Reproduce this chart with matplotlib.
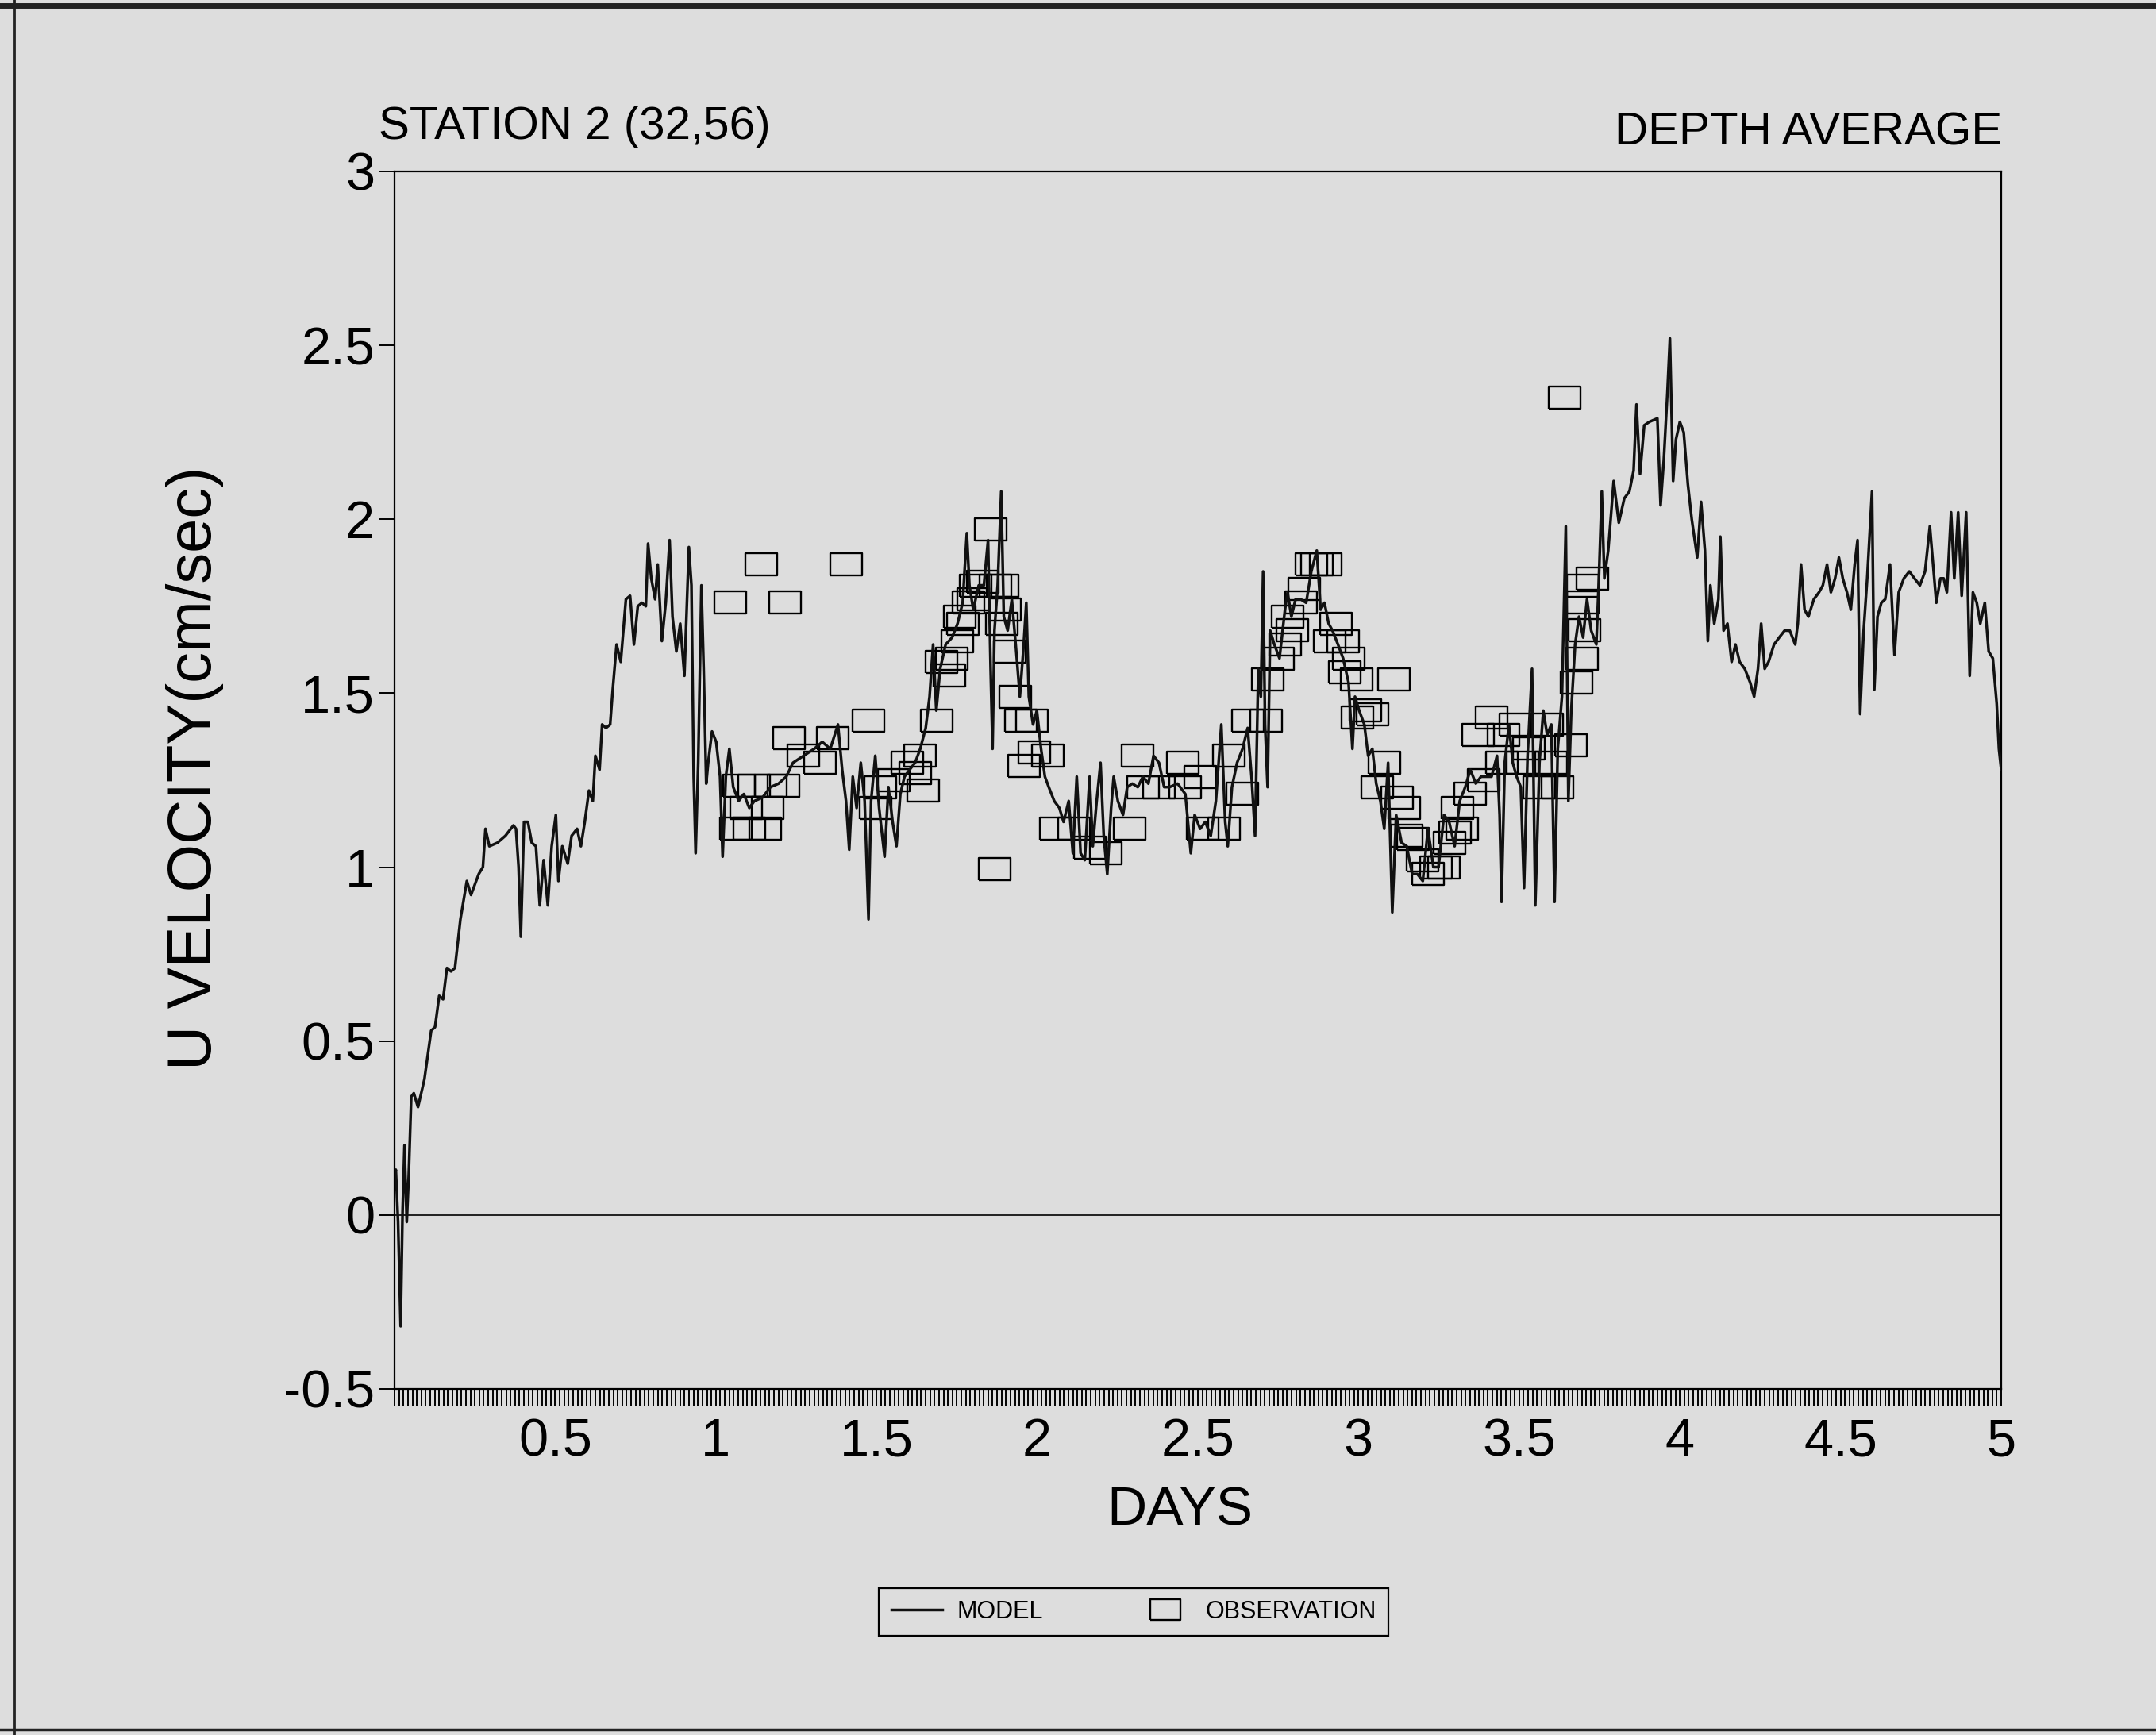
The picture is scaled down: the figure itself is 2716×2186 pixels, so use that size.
import matplotlib
matplotlib.use('Agg')
import matplotlib.pyplot as plt
from matplotlib.lines import Line2D
from matplotlib.ticker import MultipleLocator, FormatStrFormatter

# Model time series (days, cm/sec).
model_days = [
    0.000, 0.004, 0.011, 0.019, 0.025, 0.031, 0.038, 0.044, 0.052, 0.060,
    0.073, 0.093, 0.114, 0.126, 0.139, 0.151, 0.163, 0.176, 0.188, 0.205,
    0.225, 0.238, 0.262, 0.275, 0.283, 0.295, 0.320, 0.345, 0.370, 0.378,
    0.386, 0.393, 0.403, 0.415, 0.427, 0.440, 0.452, 0.464, 0.477, 0.489,
    0.502, 0.510, 0.522, 0.539, 0.551, 0.568, 0.580, 0.592, 0.605, 0.617,
    0.625, 0.638, 0.646, 0.658, 0.671, 0.679, 0.691, 0.704, 0.720, 0.733,
    0.745, 0.757, 0.770, 0.782, 0.789, 0.799, 0.811, 0.819, 0.832, 0.844,
    0.856, 0.865, 0.877, 0.889, 0.902, 0.916, 0.924, 0.931, 0.937, 0.945,
    0.955, 0.962, 0.970, 0.976, 0.988, 1.001, 1.013, 1.021, 1.031, 1.042,
    1.054, 1.071, 1.087, 1.104, 1.120, 1.145, 1.170, 1.195, 1.219,
    1.240, 1.273, 1.306, 1.331, 1.356, 1.380, 1.393, 1.405, 1.415, 1.426,
    1.438, 1.451, 1.463, 1.475, 1.483, 1.496, 1.508, 1.525, 1.537, 1.550,
    1.562, 1.574, 1.587, 1.603, 1.620, 1.636, 1.653, 1.665, 1.676, 1.686,
    1.698, 1.715, 1.735, 1.752, 1.768, 1.781, 1.789, 1.801, 1.818, 1.834,
    1.847, 1.855, 1.861, 1.867, 1.877, 1.888, 1.896, 1.908, 1.921, 1.933,
    1.946, 1.958, 1.966, 1.974, 1.987, 1.999, 2.012, 2.024, 2.036, 2.053,
    2.069, 2.082, 2.098, 2.111, 2.123, 2.135, 2.148, 2.163, 2.173, 2.185,
    2.197, 2.207, 2.218, 2.230, 2.238, 2.251, 2.267, 2.280, 2.296, 2.313,
    2.329, 2.346, 2.362, 2.379, 2.395, 2.412, 2.437, 2.461, 2.478,
    2.490, 2.507, 2.523, 2.540, 2.556, 2.573, 2.585, 2.593, 2.606, 2.622,
    2.639, 2.655, 2.667, 2.678, 2.688, 2.696, 2.703, 2.709, 2.717, 2.725,
    2.738, 2.754, 2.771, 2.779, 2.791, 2.804, 2.820, 2.837, 2.853, 2.870,
    2.882, 2.894, 2.907, 2.919, 2.936, 2.952, 2.969, 2.981, 2.989, 3.002,
    3.018, 3.030, 3.043, 3.055, 3.068, 3.080, 3.092, 3.105, 3.117, 3.134,
    3.150, 3.167, 3.183, 3.200, 3.216, 3.233, 3.249, 3.266, 3.282, 3.299,
    3.315, 3.332, 3.348, 3.365, 3.381, 3.398, 3.414, 3.431, 3.439, 3.445,
    3.455, 3.468, 3.480, 3.492, 3.505, 3.515, 3.526, 3.540, 3.550, 3.563,
    3.575, 3.587, 3.600, 3.610, 3.620, 3.633, 3.645, 3.653, 3.662, 3.674,
    3.686, 3.699, 3.711, 3.724, 3.740,
    3.748, 3.757, 3.765, 3.777, 3.794, 3.810, 3.827, 3.843, 3.856, 3.865,
    3.876, 3.889, 3.905, 3.930, 3.940, 3.950, 3.961, 3.969, 3.979, 3.988,
    4.000, 4.012, 4.025, 4.037, 4.054, 4.066, 4.078, 4.087, 4.095, 4.107,
    4.120, 4.126, 4.136, 4.148, 4.161, 4.173, 4.186, 4.202, 4.219, 4.231,
    4.243, 4.253, 4.264, 4.276, 4.293, 4.309, 4.326, 4.342, 4.359, 4.367,
    4.377, 4.388, 4.400, 4.417, 4.433, 4.445, 4.458, 4.470, 4.483, 4.495,
    4.507, 4.520, 4.532, 4.544, 4.553, 4.561, 4.572, 4.583, 4.598, 4.605,
    4.615, 4.627, 4.639, 4.654, 4.668, 4.681, 4.697, 4.714, 4.730, 4.747,
    4.763, 4.778, 4.788, 4.798, 4.811, 4.821, 4.831, 4.844, 4.854, 4.866,
    4.877, 4.891, 4.902, 4.912, 4.924, 4.935, 4.949, 4.961, 4.974, 4.986,
    4.993, 5.000]
model_vel = [
    0.11, 0.13, -0.02, -0.32, 0.01, 0.20, -0.02, 0.11, 0.34, 0.35,
    0.31, 0.39, 0.53, 0.54, 0.63, 0.62, 0.71, 0.70, 0.71, 0.85,
    0.96, 0.92, 0.98, 1.00, 1.11, 1.06, 1.07, 1.09, 1.12, 1.11,
    1.00, 0.80, 1.13, 1.13, 1.07, 1.06, 0.89, 1.02, 0.89, 1.06,
    1.15, 0.96, 1.06, 1.01, 1.09, 1.11, 1.06, 1.13, 1.22, 1.19,
    1.32, 1.28, 1.41, 1.40, 1.41, 1.51, 1.64, 1.59, 1.77, 1.78,
    1.64, 1.75, 1.76, 1.75, 1.93, 1.83, 1.77, 1.87, 1.65, 1.76,
    1.94, 1.72, 1.62, 1.70, 1.55, 1.92, 1.81, 1.26, 1.04, 1.30,
    1.81, 1.57, 1.24, 1.30, 1.39, 1.36, 1.26, 1.03, 1.26, 1.34,
    1.23, 1.19, 1.21, 1.17, 1.19, 1.20, 1.23, 1.24, 1.26,
    1.30, 1.32, 1.34, 1.36, 1.34, 1.41, 1.28, 1.19, 1.05, 1.26,
    1.17, 1.30, 1.19, 0.85, 1.19, 1.32, 1.17, 1.03, 1.23, 1.13,
    1.06, 1.21, 1.26, 1.28, 1.30, 1.34, 1.40, 1.49, 1.64, 1.45,
    1.57, 1.64, 1.66, 1.70, 1.76, 1.96, 1.81, 1.74, 1.81, 1.81,
    1.94, 1.57, 1.34, 1.68, 1.81, 2.08, 1.72, 1.68, 1.77, 1.64,
    1.49, 1.64, 1.76, 1.49, 1.41, 1.45, 1.34, 1.26, 1.23, 1.19,
    1.17, 1.13, 1.19, 1.04, 1.26, 1.04, 1.02, 1.26, 1.06, 1.19,
    1.30, 1.09, 0.98, 1.17, 1.26, 1.19, 1.15, 1.23, 1.24, 1.23,
    1.26, 1.24, 1.32, 1.30, 1.23, 1.23, 1.24, 1.21, 1.04,
    1.15, 1.11, 1.13, 1.09, 1.19, 1.41, 1.13, 1.06, 1.23, 1.30,
    1.34, 1.40, 1.26, 1.09, 1.57, 1.49, 1.85, 1.41, 1.23, 1.68,
    1.64, 1.60, 1.74, 1.79, 1.72, 1.77, 1.77, 1.76, 1.85, 1.91,
    1.74, 1.76, 1.70, 1.68, 1.64, 1.60, 1.53, 1.34, 1.49, 1.45,
    1.41, 1.32, 1.34, 1.24, 1.19, 1.11, 1.30, 0.87, 1.15, 1.07,
    1.06, 0.98, 0.98, 0.96, 1.11, 1.00, 1.00, 1.15, 1.13, 1.06,
    1.19, 1.23, 1.28, 1.24, 1.26, 1.26, 1.26, 1.32, 1.15, 0.90,
    1.30, 1.41, 1.30, 1.26, 1.23, 0.94, 1.32, 1.57, 0.89, 1.30,
    1.45, 1.38, 1.41, 0.90, 1.34, 1.49, 1.98, 1.19, 1.45, 1.64,
    1.72, 1.66, 1.77, 1.68, 1.64,
    1.83, 2.08, 1.83, 1.91, 2.11, 1.99, 2.06, 2.08, 2.14, 2.33,
    2.13, 2.27, 2.28, 2.29, 2.04, 2.17, 2.36, 2.52, 2.11, 2.23,
    2.28, 2.25, 2.10, 2.00, 1.89, 2.05, 1.91, 1.65, 1.81, 1.70,
    1.77, 1.95, 1.68, 1.70, 1.59, 1.64, 1.59, 1.57, 1.53, 1.49,
    1.57, 1.70, 1.57, 1.59, 1.64, 1.66, 1.68, 1.68, 1.64, 1.70,
    1.87, 1.74, 1.72, 1.77, 1.79, 1.81, 1.87, 1.79, 1.83, 1.89,
    1.83, 1.79, 1.74, 1.87, 1.94, 1.44, 1.68, 1.83, 2.08, 1.51,
    1.72, 1.76, 1.77, 1.87, 1.61, 1.79, 1.83, 1.85, 1.83, 1.81,
    1.85, 1.98, 1.87, 1.76, 1.83, 1.83, 1.79, 2.02, 1.83, 2.02,
    1.78, 2.02, 1.55, 1.79, 1.76, 1.70, 1.76, 1.62, 1.60, 1.47,
    1.34, 1.28]

# Observations (days, cm/sec).
obs_days = [
    1.046, 1.063, 1.071, 1.095, 1.104, 1.120, 1.141, 1.153, 1.160, 1.170,
    1.211, 1.215, 1.228, 1.273, 1.323, 1.364, 1.405, 1.475, 1.496, 1.512,
    1.555, 1.595, 1.620, 1.636, 1.644, 1.686, 1.702, 1.727, 1.735, 1.752,
    1.760, 1.768, 1.785, 1.800, 1.809, 1.830, 1.855, 1.867, 1.870, 1.890,
    1.892, 1.900, 1.915, 1.933, 1.950, 1.958, 1.983, 1.990, 2.032, 2.057,
    2.115, 2.164, 2.214, 2.288, 2.313, 2.329, 2.379, 2.453, 2.461, 2.507,
    2.515, 2.581, 2.597, 2.639, 2.655, 2.713, 2.717, 2.750, 2.771, 2.780,
    2.795, 2.820, 2.830, 2.853, 2.870, 2.898, 2.911, 2.930, 2.952, 2.956,
    2.970, 2.993, 2.997, 3.020, 3.043, 3.059, 3.080, 3.109, 3.120, 3.142,
    3.150, 3.170, 3.200, 3.216, 3.240, 3.266, 3.282, 3.300, 3.307, 3.323,
    3.348, 3.373, 3.390, 3.414, 3.447, 3.450, 3.488, 3.510, 3.530, 3.563,
    3.587, 3.600, 3.620, 3.641, 3.662, 3.678, 3.695, 3.703, 3.697, 3.699,
    3.728]
obs_vel = [
    1.76, 1.11, 1.235, 1.17, 1.11, 1.235, 1.87, 1.11, 1.17, 1.235,
    1.235, 1.76, 1.37, 1.32, 1.30, 1.37, 1.87, 1.42, 1.17, 1.23,
    1.25, 1.30, 1.27, 1.32, 1.22, 1.42, 1.59, 1.55, 1.60, 1.65,
    1.72, 1.70, 1.76, 1.77, 1.81, 1.82, 1.97, 0.995, 1.81, 1.70,
    1.81, 1.74, 1.62, 1.49, 1.42, 1.29, 1.42, 1.33, 1.32, 1.11,
    1.11, 1.055, 1.04, 1.11, 1.32, 1.23, 1.23, 1.30, 1.23, 1.26,
    1.11, 1.11, 1.32, 1.21, 1.42, 1.42, 1.54, 1.60, 1.64, 1.72,
    1.68, 1.76, 1.80, 1.87, 1.87, 1.87, 1.65, 1.70, 1.65, 1.56,
    1.60, 1.54, 1.43, 1.45, 1.44, 1.23, 1.30, 1.54, 1.20, 1.17,
    1.09, 1.08, 1.02, 0.98, 1.00, 1.00, 1.07, 1.10, 1.17, 1.11,
    1.21, 1.38, 1.25, 1.43, 1.30, 1.38, 1.41, 1.30, 1.34, 1.23,
    1.41, 1.30, 1.23, 2.35, 1.35, 1.53, 1.60, 1.68, 1.76, 1.81,
    1.83]

x_ticks = [0.5, 1, 1.5, 2, 2.5, 3, 3.5, 4, 4.5, 5]
y_ticks = [-0.5, 0, 0.5, 1, 1.5, 2, 2.5, 3]

# Box shaped marker, wider than tall.
boxMarker = [(-1, -0.7), (1, -0.7), (1, 0.7), (-1, 0.7), (-1, -0.7)]


def plotStation():
    params = {'font.family': ['Liberation Sans', 'DejaVu Sans'],
              'axes.unicode_minus': False,
              'axes.linewidth': 1.6,
              'xtick.major.size': 16,
              'xtick.minor.size': 16,
              'xtick.major.width': 1.4,
              'xtick.minor.width': 1.4,
              'ytick.major.size': 14,
              'ytick.major.width': 1.4,
              'xtick.labelsize': 48,
              'ytick.labelsize': 48}
    plt.rcParams.update(params)

    bg = '#dddddd'
    fig = plt.figure(figsize=(27.16, 21.86), dpi=100, facecolor=bg)
    ax = fig.add_axes([0.183, 0.1995, 0.7452, 0.7017])
    ax.set_facecolor(bg)

    ax.axhline(0, color='black', lw=1.2, zorder=1)
    ax.plot(model_days, model_vel, color='#111111', lw=2.5, label='MODEL',
            zorder=3)
    ax.plot(obs_days, obs_vel, ls='none', marker=boxMarker, ms=29,
            mfc='none', mec='black', mew=1.7, label='OBSERVATION', zorder=2)

    ax.set_xlim(0, 5)
    ax.set_ylim(-0.5, 3)
    ax.set_xticks(x_ticks)
    ax.set_yticks(y_ticks)
    ax.xaxis.set_minor_locator(MultipleLocator(1 / 72))
    ax.xaxis.set_major_formatter(FormatStrFormatter('%g'))
    ax.yaxis.set_major_formatter(FormatStrFormatter('%g'))
    ax.tick_params(axis='x', which='both', direction='out', pad=10)
    ax.tick_params(axis='y', direction='out', pad=4)

    ax.set_xlabel('DAYS', fontsize=50)
    ax.xaxis.set_label_coords(0.489, -0.079)
    ax.set_ylabel('U VELOCITY(cm/sec)', fontsize=56)
    ax.yaxis.set_label_coords(-0.106, 0.51)

    fig.text(0.1756, 0.920, 'STATION 2 (32,56)', fontsize=42,
             ha='left', va='baseline')
    fig.text(0.9286, 0.9167, 'DEPTH AVERAGE', fontsize=42,
             ha='right', va='baseline')

    leg = fig.legend(loc='center', bbox_to_anchor=(0.5258, 0.0709), ncol=2,
                     fontsize=22, frameon=True, fancybox=False,
                     edgecolor='black', facecolor=bg, framealpha=1,
                     handlelength=2.1, handletextpad=0.6, columnspacing=4.0,
                     borderpad=0.5)
    leg.get_frame().set_linewidth(1.6)
    for h in leg.legend_handles:
        if h.get_label() == 'OBSERVATION':
            h.set_markersize(27)

    # Page border from the scan.
    fig.add_artist(Line2D([0, 1], [0.997, 0.997], color='#222222', lw=5))
    fig.add_artist(Line2D([0.0065, 0.0065], [0, 1], color='#222222', lw=2))
    fig.add_artist(Line2D([0, 1], [0.003, 0.003], color='#222222', lw=2.5))

    fig.savefig('out.png', dpi=100, facecolor=bg)


if __name__ == "__main__":
    plotStation()
